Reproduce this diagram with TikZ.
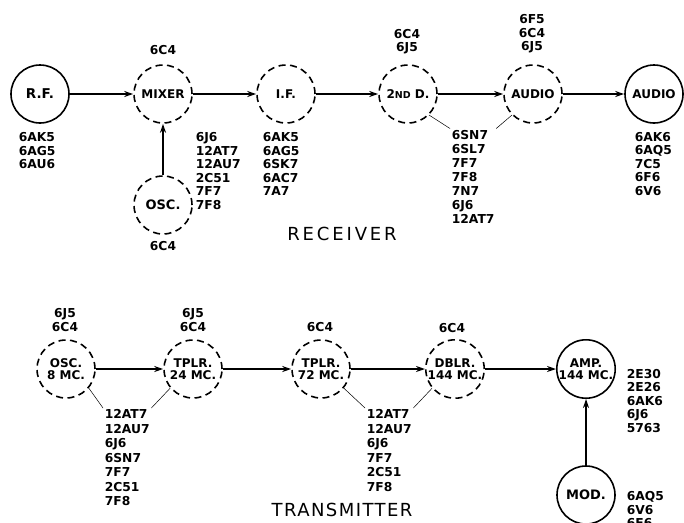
\documentclass[tikz,border=0pt]{standalone}
\usepackage{fontspec}
\setsansfont{DejaVu Sans}
\usetikzlibrary{arrows.meta}
\begin{document}
\begin{tikzpicture}[x=1pt,y=-1pt,line width=1.6pt,every node/.style={font=\sffamily\bfseries\fontsize{12.3}{13.5}\selectfont},
  stage/.style={draw,circle,minimum size=58pt,inner sep=0pt,align=center,font=\sffamily\bfseries\fontsize{12}{12.5}\selectfont},
  dstage/.style={stage,dash pattern=on 7pt off 4.5pt},
  tubes/.style={align=left,inner sep=1pt,anchor=north west},
  tubesup/.style={align=center,inner sep=0pt,anchor=south},
  sig/.style={-{Stealth[length=9pt,width=6pt]},line width=1.3pt},
  lead/.style={line width=0.5pt},
  title/.style={font=\sffamily\fontsize{18}{18}\selectfont\addfontfeature{LetterSpace=8}}]
\useasboundingbox (0,0) rectangle (684,522);
% receiver
\node[stage,font=\sffamily\bfseries\fontsize{13.5}{13.5}\selectfont] (rf) at (40,94) {R.F.};
\node[dstage] (mix) at (163,94) {MIXER};
\node[dstage] (if) at (286,94) {I.F.};
\node[dstage] (det) at (408,94) {2{\fontsize{9.5}{9.5}\selectfont ND} D.};
\node[dstage] (aud) at (533,94) {AUDIO};
\node[stage] (out) at (654,94) {AUDIO};
\node[dstage,font=\sffamily\bfseries\fontsize{13}{13}\selectfont] (rosc) at (163,205) {OSC.};
\foreach \a/\b in {rf/mix,mix/if,if/det,det/aud,aud/out,rosc/mix} {\draw[sig] (\a)--(\b);}
\node[tubes] (rfl) at (17,131) {6AK5\\6AG5\\6AU6};
\node[tubes] (roscl) at (194,131) {6J6\\12AT7\\12AU7\\2C51\\7F7\\7F8};
\node[tubes] (ifl) at (261,131) {6AK5\\6AG5\\6SK7\\6AC7\\7A7};
\node[tubes,font=\sffamily\bfseries\fontsize{12.3}{14}\selectfont] (detl) at (450,128.5) {6SN7\\6SL7\\7F7\\7F8\\7N7\\6J6\\12AT7};
\node[tubes] (outl) at (633,130.5) {6AK6\\6AQ5\\7C5\\6F6\\6V6};
\node[tubesup] (mixu) at (163,55) {6C4};
\node[tubesup] (detu) at (407,55) {6C4\\6J5};
\node[tubesup] (audu) at (532,54) {6F5\\6C4\\6J5};
\node[inner sep=0pt,anchor=north] (roscu) at (163,240.5) {6C4};
\draw[lead] (det.-45)--(detl.north west) (aud.-135)--(detl.north east);
\node[title,font=\sffamily\fontsize{18}{18}\selectfont\addfontfeature{LetterSpace=16}] (rx) at (342,233.5) {RECEIVER};
% transmitter
\node[dstage] (osc) at (66,369) {OSC.\\8 MC.};
\node[dstage] (tpa) at (193,369) {TPLR.\\24 MC.};
\node[dstage] (tpb) at (321,369) {TPLR.\\72 MC.};
\node[dstage] (dbl) at (455,369) {DBLR.\\144 MC.};
\node[stage] (amp) at (586,369) {AMP.\\144 MC.};
\node[stage,font=\sffamily\bfseries\fontsize{13}{13}\selectfont] (mod) at (586,495) {MOD.};
\foreach \a/\b in {osc/tpa,tpa/tpb,tpb/dbl,dbl/amp,mod/amp} {\draw[sig] (\a)--(\b);}
\node[tubesup] (oscu) at (65,332) {6J5\\6C4};
\node[tubesup] (tpau) at (193,332) {6J5\\6C4};
\node[tubesup] (tpbu) at (320,332) {6C4};
\node[tubesup] (dblu) at (452,333) {6C4};
\node[tubes,font=\sffamily\bfseries\fontsize{12.3}{14.5}\selectfont] (oscl) at (103,408) {12AT7\\12AU7\\6J6\\6SN7\\7F7\\2C51\\7F8};
\node[tubes,font=\sffamily\bfseries\fontsize{12.3}{14.5}\selectfont] (tpbl) at (365,408) {12AT7\\12AU7\\6J6\\7F7\\2C51\\7F8};
\node[tubes] (ampl) at (625,367.5) {2E30\\2E26\\6AK6\\6J6\\5763};
\node[tubes] (modl) at (625,490) {6AQ5\\6V6\\6F6};
\draw[lead] (osc.-40)--(oscl.north west) (tpa.-140)--(oscl.north east);
\draw[lead] (tpb.-40)--(tpbl.north west) (dbl.-140)--(tpbl.north east);
\node[title] (tx) at (342,510) {TRANSMITTER};
\end{tikzpicture}
\end{document}
